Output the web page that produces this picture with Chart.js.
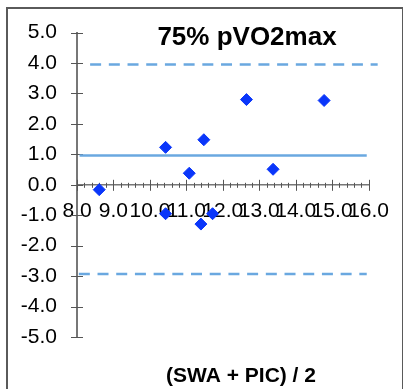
<!DOCTYPE html>
<html>
<head>
<meta charset="utf-8">
<script src="https://cdn.jsdelivr.net/npm/chart.js@4"></script>
<style>
  html, body { margin: 0; padding: 0; background: #fff; overflow: hidden; }
  #wrap { position: relative; width: 403px; height: 389px; }
  #frame {
    position: absolute; left: 6px; top: 7px; width: 394px; height: 400px;
    border: 2px solid #5a5a5a; pointer-events: none;
  }
</style>
</head>
<body>
<div id="wrap">
  <canvas id="chart" width="403" height="389"></canvas>
  <div id="frame"></div>
</div>
<script>
// Bland-Altman data (differences vs means)
const meanValues = [8.61, 10.43, 10.43, 11.08, 11.40, 11.48, 11.72, 12.65, 13.38, 14.78];
const diffValues = [-0.16, 1.23, -0.95, 0.38, -1.29, 1.48, -0.95, 2.80, 0.51, 2.77];

// Mean bias and limits of agreement
const biasLine = [0.96, 0.96];
const biasLineX = [8.07, 15.95];
const upperLine = [3.95, 3.95];
const upperLineX = [8.36, 16.25];
const lowerLine = [-2.93, -2.93];
const lowerLineX = [8.05, 15.95];

// Axis ranges
const xRange = [8, 16];
const yRange = [-5, 5];

const titleText = '75% pVO2max';
const xAxisText = '(SWA + PIC) / 2';

const toPoints = (xs, ys) => xs.map((x, i) => ({ x, y: ys[i] }));

const lineBlue = '#6aa8e0';
const pointBlue = '#0a36fa';
const axisGrey = '#777777';

// Excel style cross tick marks + title text
const excelAxes = {
  id: 'excelAxes',
  beforeDatasetsDraw(chart) {
    const { ctx, scales: { x, y } } = chart;
    const x0 = x.getPixelForValue(xRange[0]);
    const y0 = y.getPixelForValue(0);
    ctx.save();
    ctx.strokeStyle = '#555';
    ctx.lineWidth = 1;
    // y major ticks
    for (let v = yRange[0]; v <= yRange[1]; v++) {
      const py = Math.round(y.getPixelForValue(v)) + 0.5;
      ctx.beginPath();
      ctx.moveTo(x0 - 6, py);
      ctx.lineTo(x0 + 6, py);
      ctx.stroke();
    }
    // x minor + major ticks
    for (let k = 0; k <= (xRange[1] - xRange[0]) * 5; k++) {
      const v = xRange[0] + k * 0.2;
      const px = Math.round(x.getPixelForValue(v)) + 0.5;
      const major = k % 5 === 0;
      ctx.beginPath();
      ctx.moveTo(px, y0 - (major ? 5 : 2));
      ctx.lineTo(px, y0 + (major ? 6 : 3));
      ctx.stroke();
    }
    ctx.restore();
  },
  afterDraw(chart) {
    const { ctx } = chart;
    ctx.save();
    ctx.fillStyle = '#000';
    ctx.textAlign = 'center';
    ctx.textBaseline = 'alphabetic';
    ctx.font = 'bold 26px "Liberation Sans", Arial, sans-serif';
    ctx.fillText(titleText, 247, 45);
    ctx.font = 'bold 21px "Liberation Sans", Arial, sans-serif';
    ctx.fillText(xAxisText, 241, 382);
    ctx.restore();
  },
};

const tickFont = { family: '"Liberation Sans", Arial, sans-serif', size: 21 };

const ctx = document.getElementById('chart').getContext('2d');
const chart = new Chart(ctx, {
  type: 'scatter',
  data: {
    datasets: [
      {
        type: 'line',
        data: toPoints(upperLineX, upperLine),
        borderColor: lineBlue,
        borderWidth: 2.5,
        borderDash: [11, 7.7],
        pointRadius: 0,
        clip: false,
      },
      {
        type: 'line',
        data: toPoints(biasLineX, biasLine),
        borderColor: lineBlue,
        borderWidth: 2.5,
        pointRadius: 0,
      },
      {
        type: 'line',
        data: toPoints(lowerLineX, lowerLine),
        borderColor: lineBlue,
        borderWidth: 2.5,
        borderDash: [11, 7.7],
        pointRadius: 0,
      },
      {
        data: toPoints(meanValues, diffValues),
        pointStyle: 'rectRot',
        pointRadius: 6,
        pointHoverRadius: 6,
        backgroundColor: pointBlue,
        borderColor: pointBlue,
        borderWidth: 1,
      },
    ],
  },
  options: {
    responsive: false,
    animation: false,
    layout: { padding: { top: 27, right: 34, bottom: 52, left: 0 } },
    plugins: {
      legend: { display: false },
      tooltip: { enabled: false },
    },
    scales: {
      x: {
        type: 'linear',
        position: { y: 0 },
        min: xRange[0],
        max: xRange[1],
        grid: { display: false, drawTicks: false },
        border: { display: true, color: axisGrey, width: 1.5 },
        ticks: {
          stepSize: 1,
          autoSkip: false,
          maxRotation: 0,
          minRotation: 0,
          padding: 14,
          color: '#000',
          font: tickFont,
          callback: v => Number(v).toFixed(1),
        },
      },
      y: {
        type: 'linear',
        min: yRange[0],
        max: yRange[1],
        grid: { display: false, drawTicks: false },
        border: { display: true, color: axisGrey, width: 2 },
        ticks: {
          stepSize: 1,
          padding: 20,
          color: '#000',
          font: tickFont,
          callback: v => Number(v).toFixed(1),
        },
        afterFit: scale => {
          scale.width = 77;
        },
      },
    },
  },
  plugins: [excelAxes],
});
</script>
</body>
</html>
